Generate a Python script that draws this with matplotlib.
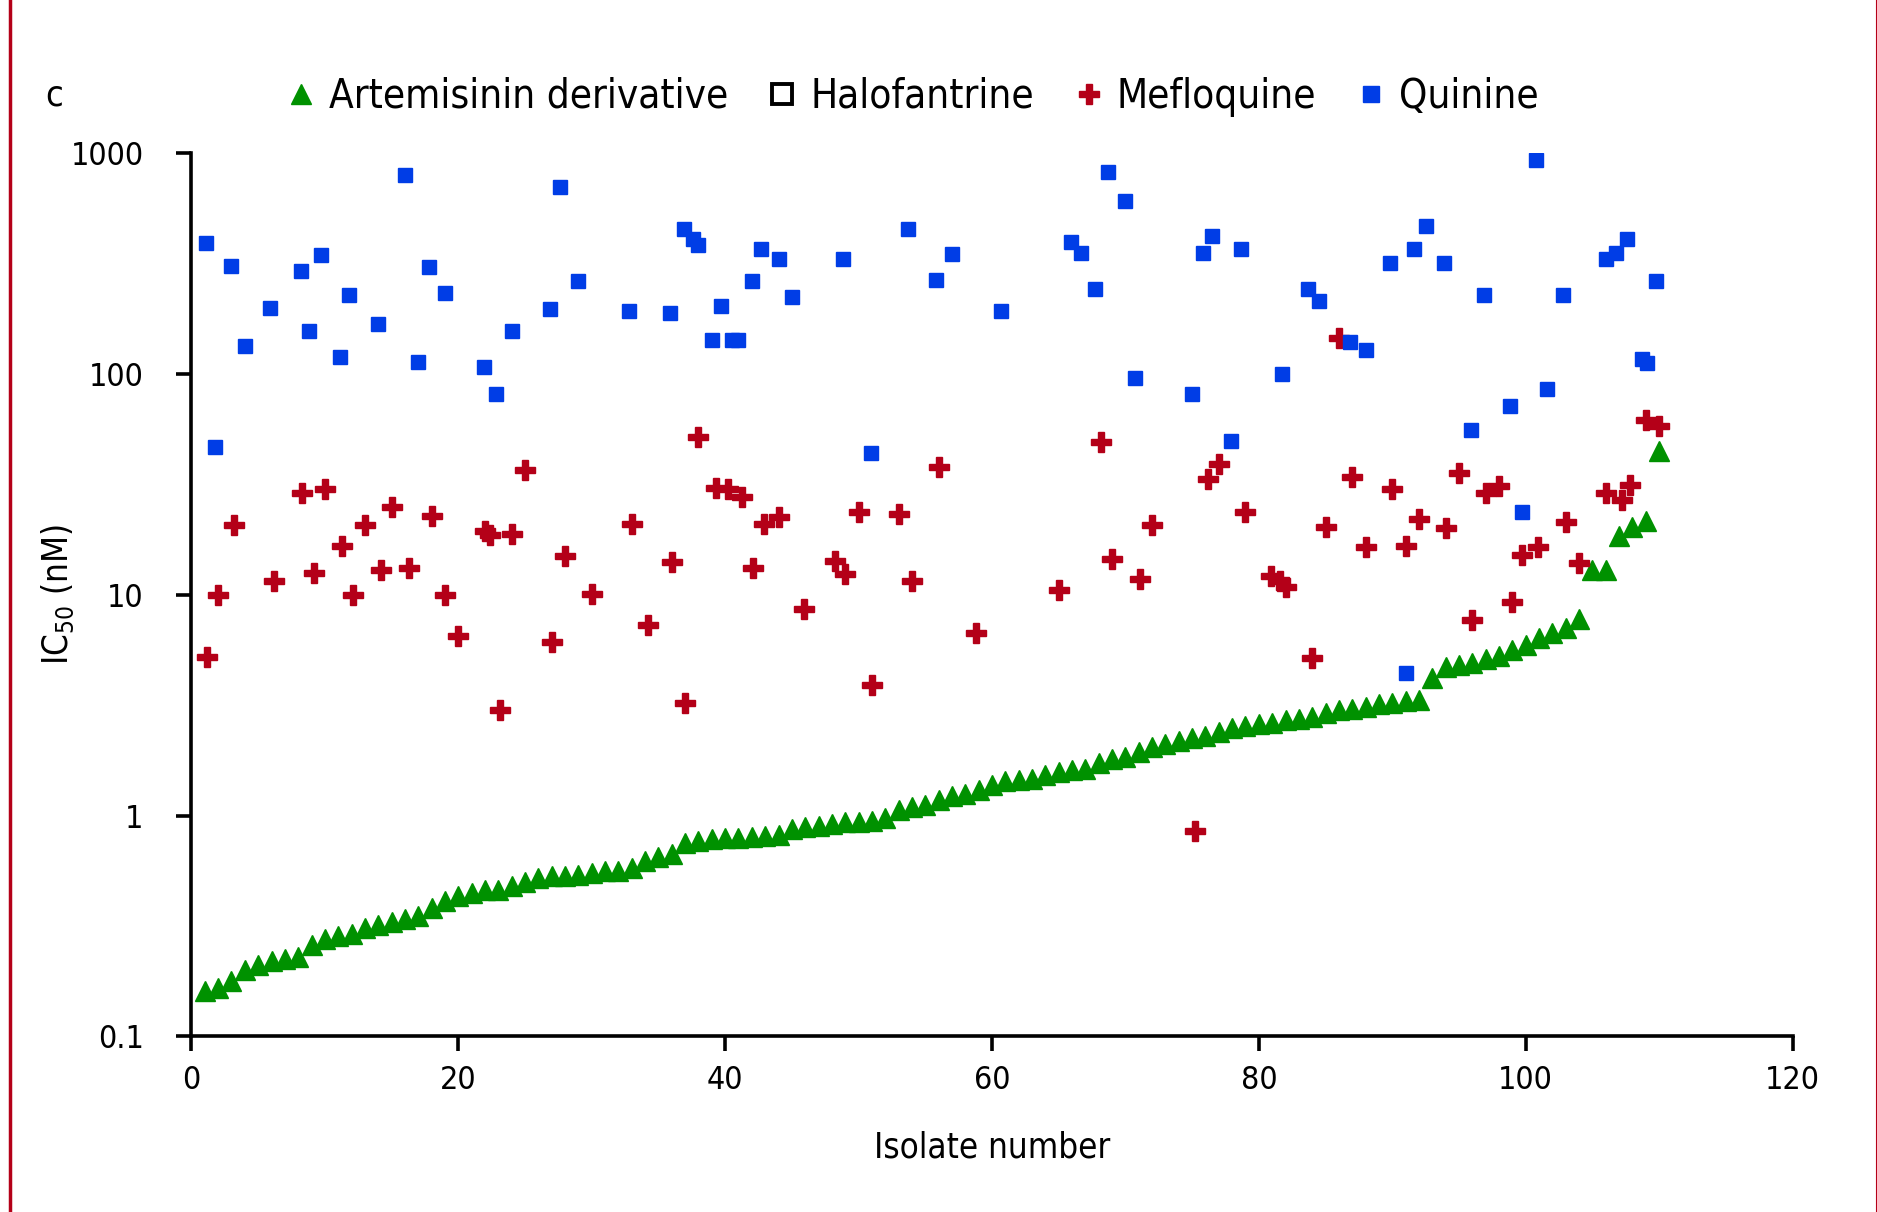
import numpy as np
import matplotlib
matplotlib.use("Agg")
import matplotlib.pyplot as plt
from matplotlib.lines import Line2D
from matplotlib.ticker import FixedLocator, FixedFormatter, NullLocator

plt.rcParams['font.family'] = ['DejaVu Sans']
plt.rcParams['font.stretch'] = 'condensed'

# artemisinin derivative, isolates sorted by IC50
art_x = np.arange(1, 111)
art_y = [0.16, 0.165, 0.178, 0.20, 0.21, 0.22, 0.225, 0.228, 0.26, 0.275,
         0.285, 0.29, 0.31, 0.32, 0.33, 0.34, 0.35, 0.38, 0.41, 0.43,
         0.445, 0.46, 0.46, 0.48, 0.50, 0.52, 0.53, 0.53, 0.54, 0.55,
         0.56, 0.56, 0.58, 0.62, 0.65, 0.67, 0.75, 0.77, 0.78, 0.79,
         0.79, 0.80, 0.81, 0.82, 0.87, 0.89, 0.90, 0.92, 0.93, 0.93,
         0.94, 0.97, 1.06, 1.09, 1.12, 1.18, 1.23, 1.25, 1.30, 1.37,
         1.43, 1.45, 1.47, 1.52, 1.58, 1.60, 1.62, 1.73, 1.80, 1.85,
         1.95, 2.05, 2.10, 2.18, 2.25, 2.30, 2.40, 2.50, 2.55, 2.60,
         2.62, 2.70, 2.75, 2.80, 2.90, 3.00, 3.05, 3.10, 3.20, 3.25,
         3.30, 3.35, 4.2, 4.7, 4.8, 4.9, 5.1, 5.3, 5.6, 5.9,
         6.4, 6.7, 7.1, 7.8, 13.0, 13.0, 18.4, 20.3, 21.5, 45.0]

# mefloquine
mef_x = [1.2, 2.0, 3.2, 6.2, 8.3, 9.2, 10.0, 11.3, 12.1, 13.0,
         14.2, 15.0, 16.3, 18.0, 19.0, 20.0, 22.0, 22.4, 23.1, 24.0,
         25.0, 27.0, 28.0, 30.0, 33.0, 34.2, 36.0, 37.0, 38.0, 39.3,
         40.2, 41.3, 42.1, 42.9, 44.0, 45.9, 48.2, 49.0, 50.0, 51.0,
         53.0, 54.0, 56.0, 58.8, 65.0, 68.2, 69.0, 71.1, 72.0, 75.2,
         76.2, 77.0, 79.0, 80.9, 81.6, 82.0, 84.0, 85.0, 86.0, 87.0,
         88.0, 90.0, 91.0, 92.0, 94.0, 95.0, 96.0, 97.0, 98.0, 99.0,
         99.7, 100.9, 103.0, 104.0, 106.0, 107.2, 107.8, 109.0, 110.0]
mef_y = [5.2, 10.0, 20.7, 11.5, 29.0, 12.6, 30.0, 16.6, 10.0, 20.7,
         13.0, 25.0, 13.2, 22.8, 10.0, 6.5, 19.4, 18.7, 3.0, 18.9,
         36.6, 6.1, 15.0, 10.1, 20.9, 7.3, 14.1, 3.25, 52.0, 30.6,
         30.0, 27.6, 13.2, 20.9, 22.6, 8.6, 14.3, 12.4, 23.8, 3.9,
         23.3, 11.5, 38.0, 6.7, 10.5, 49.0, 14.5, 11.8, 20.7, 0.85,
         33.5, 39.0, 23.8, 12.2, 11.6, 10.8, 5.15, 20.2, 146.0, 34.0,
         16.4, 30.3, 16.6, 22.0, 20.0, 35.7, 7.7, 29.0, 31.0, 9.3,
         15.2, 16.4, 21.4, 14.0, 29.0, 27.0, 31.5, 62.0, 58.0]

# quinine
qui_x = [1.1, 1.8, 3.0, 4.0, 5.9, 8.2, 8.8, 9.7, 11.1, 11.8,
         14.0, 16.0, 17.0, 17.8, 19.0, 21.9, 22.8, 24.0, 26.9, 27.6,
         29.0, 32.8, 35.9, 36.9, 37.6, 38.0, 39.0, 39.7, 40.5, 41.0,
         42.0, 42.7, 44.0, 45.0, 48.8, 50.9, 53.7, 55.8, 57.0, 60.7,
         65.9, 66.7, 67.7, 68.7, 70.0, 70.7, 75.0, 75.8, 76.5, 77.9,
         78.7, 81.7, 83.7, 84.5, 86.8, 88.0, 89.8, 91.0, 91.6, 92.5,
         93.9, 95.9, 96.9, 98.8, 99.7, 100.8, 101.6, 102.8, 106.0, 106.8,
         107.6, 108.7, 109.1, 109.8]
qui_y = [392, 46.5, 310, 134, 200, 293, 157, 346, 120, 229,
         169, 795, 113, 307, 234, 108, 81, 157, 198, 703,
         265, 193, 189, 453, 410, 385, 142, 203, 142, 142,
         265, 368, 333, 223, 333, 43.8, 453, 268, 350, 193,
         396, 355, 243, 822, 607, 96, 81, 355, 421, 49.7,
         368, 100, 243, 215, 139, 129, 318, 4.4, 368, 470,
         318, 56, 229, 72, 23.8, 930, 86, 229, 333, 355,
         410, 117, 112, 265]

green = '#009100'
red = '#b40018'
blue = '#003de6'

fig = plt.figure(figsize=(18.77, 12.12), dpi=100)
ax = fig.add_axes([0.102, 0.145, 0.853, 0.7285])

ax.plot(art_x, art_y, linestyle='none', marker='^', ms=15, color=green, mec=green)
ax.plot(mef_x, mef_y, linestyle='none', marker='P', ms=14, color=red, mec=red)
ax.plot(qui_x, qui_y, linestyle='none', marker='s', ms=10.5, color=blue, mec=blue)

ax.set_yscale('log')
ax.set_ylim(0.1, 1000)
ax.set_xlim(0, 120)
ax.yaxis.set_major_locator(FixedLocator([0.1, 1, 10, 100, 1000]))
ax.yaxis.set_major_formatter(FixedFormatter(['0.1', '1', '10', '100', '1000']))
ax.yaxis.set_minor_locator(NullLocator())
ax.set_xticks(range(0, 121, 20))

for s in ['top', 'right']:
    ax.spines[s].set_visible(False)
for s in ['left', 'bottom']:
    ax.spines[s].set_linewidth(2.6)
ax.tick_params(width=2.6, length=10.5, labelsize=23)
ax.tick_params(axis='x', pad=10)
ax.tick_params(axis='y', pad=24)

ax.set_xlabel('Isolate number', fontsize=25)
ax.set_ylabel('IC$_{50}$ (nM)', fontsize=25)
ax.xaxis.set_label_coords(0.5, -0.107)
ax.yaxis.set_label_coords(-0.072, 0.5)

handles = [
    Line2D([], [], linestyle='none', marker='^', ms=14, color=green),
    Line2D([], [], linestyle='none', marker='s', ms=14, mfc='white', mec='black', mew=2.8),
    Line2D([], [], linestyle='none', marker='P', ms=15, color=red),
    Line2D([], [], linestyle='none', marker='s', ms=12, color=blue),
]
labels = ['Artemisinin derivative', 'Halofantrine', 'Mefloquine', 'Quinine']
fig.legend(handles, labels, loc='center', bbox_to_anchor=(0.4845, 0.92), ncol=4,
           frameon=False, fontsize=29, handletextpad=0.2, columnspacing=0.85,
           handlelength=1.0)

fig.text(0.029, 0.921, 'c', fontsize=26, va='center', ha='center')

# red rule on left edge and thin line on right edge
fig.add_artist(Line2D([0.0055, 0.0055], [0, 1], color=red, lw=2.5, transform=fig.transFigure))
fig.add_artist(Line2D([0.9995, 0.9995], [0, 1], color=red, lw=0.8, transform=fig.transFigure))

fig.savefig('out.png', dpi=100)
